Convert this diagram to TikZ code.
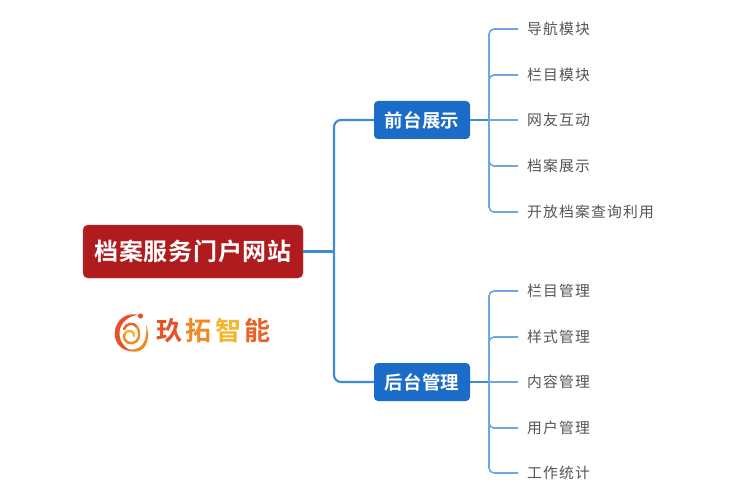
\documentclass[tikz,border=0pt]{standalone}
\usepackage{fontspec}
\setmainfont{Noto Sans CJK SC}
\newfontfamily\leaffont[LetterSpace=8]{Noto Sans CJK SC}
\newfontfamily\rootfont[LetterSpace=3,BoldFont={Noto Sans CJK SC Bold}]{Noto Sans CJK SC}
\newfontfamily\midfont[LetterSpace=2,BoldFont={Noto Sans CJK SC Bold}]{Noto Sans CJK SC}
\newfontfamily\logofont[BoldFont={Noto Sans CJK SC Bold}]{Noto Sans CJK SC}
\definecolor{rootred}{HTML}{B01C1E}
\definecolor{boxblue}{HTML}{1A6CC8}
\definecolor{linkblue}{HTML}{3F8BD8}
\definecolor{leafblue}{HTML}{6FA6DE}
\definecolor{leafgray}{HTML}{555555}
\definecolor{logored}{HTML}{E8502A}
\definecolor{logoorange}{HTML}{F08A24}
\definecolor{logoyellow}{HTML}{F6B42A}
\tikzset{
  rootbox/.style={draw=rootred!85,fill=rootred,rounded corners=5pt,minimum width=220pt,minimum height=53pt,inner sep=0pt,text=white,font=\fontsize{24}{26}\rootfont\bfseries},
  midbox/.style={fill=boxblue,rounded corners=4pt,minimum width=96pt,minimum height=38pt,inner sep=0pt,text=white,font=\fontsize{18.4}{20}\midfont\bfseries},
  leaf/.style={anchor=west,inner xsep=9pt,inner ysep=0pt,text=leafgray,font=\fontsize{14.8}{16}\leaffont},
  trunk/.style={draw=linkblue,line width=2.2pt,rounded corners=7pt},
  twig/.style={draw=leafblue,line width=1.6pt,rounded corners=5pt},
  logotext/.style={anchor=center,inner sep=0pt,font=\fontsize{26}{28}\logofont\bfseries},
  swirl/.style={line width=2.4pt,line cap=round,fill=none}
}
\begin{document}
\begin{tikzpicture}[x=1pt,y=-1pt]
\useasboundingbox (0,0) rectangle (750,500);
\fill[white] (0,0) rectangle (750,500);
\node[rootbox] (root) at (193,251.5) {档案服务门户网站};
\node[midbox] (front) at (422,120) {前台展示};
\node[midbox] (back) at (422,382) {后台管理};
\coordinate (mainj) at (334,251.5);
\coordinate (fj) at (489,120);
\coordinate (bj) at (489,382);
\node[leaf] (f1) at (518,29) {导航模块};
\node[leaf] (f2) at (518,75) {栏目模块};
\node[leaf] (f3) at (518,120) {网友互动};
\node[leaf] (f4) at (518,166) {档案展示};
\node[leaf] (f5) at (518,212) {开放档案查询利用};
\node[leaf] (b1) at (518,291) {栏目管理};
\node[leaf] (b2) at (518,337) {样式管理};
\node[leaf] (b3) at (518,382) {内容管理};
\node[leaf] (b4) at (518,428) {用户管理};
\node[leaf] (b5) at (518,473) {工作统计};
\draw[trunk] (root.east) -- (mainj);
\draw[trunk] (mainj) |- (front.west);
\draw[trunk] (mainj) |- (back.west);
\draw[trunk] (front.east) -- (fj);
\draw[trunk] (back.east) -- (bj);
\foreach \n in {f1,f2,f4,f5} \draw[twig] (fj) |- (\n.west);
\draw[twig] (fj) -- (f3.west);
\foreach \n in {b1,b2,b4,b5} \draw[twig] (bj) |- (\n.west);
\draw[twig] (bj) -- (b3.west);
% logo mark
\fill[logored] (139,315) .. controls (122,311) and (113,325) .. (115,337) .. controls (117,347) and (125,351) .. (133,351.5) .. controls (124,348) and (119,341) .. (119.5,332) .. controls (120,323) and (129,315) .. (139,315) -- cycle;
\fill[logoorange] (133,351.5) .. controls (142,353) and (149,345) .. (148,333) .. controls (147.5,329) and (147,327) .. (146,325) .. controls (147,333) and (146,342) .. (140,347) .. controls (137,349) and (135,350) .. (127,349) -- cycle;
\draw[swirl,logored!70!logoorange] (124,329) .. controls (126,323) and (134,322) .. (137,327);
\draw[swirl,logoorange] (137,327) .. controls (141,333) and (140,342) .. (132,343) .. controls (126,344) and (122,338) .. (125,333);
\draw[swirl,logoyellow] (125,333) .. controls (128,329) and (135,331) .. (134,336);
\fill[logored] (140.5,316) circle (2.6pt);
% logo text
\node[logotext,text=logored] (l1) at (169,331) {玖};
\node[logotext,text=logoorange] (l2) at (198.5,331) {拓};
\node[logotext,text=logoyellow] (l3) at (228,331) {智};
\node[logotext,text=logored!70!logoorange] (l4) at (257.5,331) {能};
\end{tikzpicture}
\end{document}
